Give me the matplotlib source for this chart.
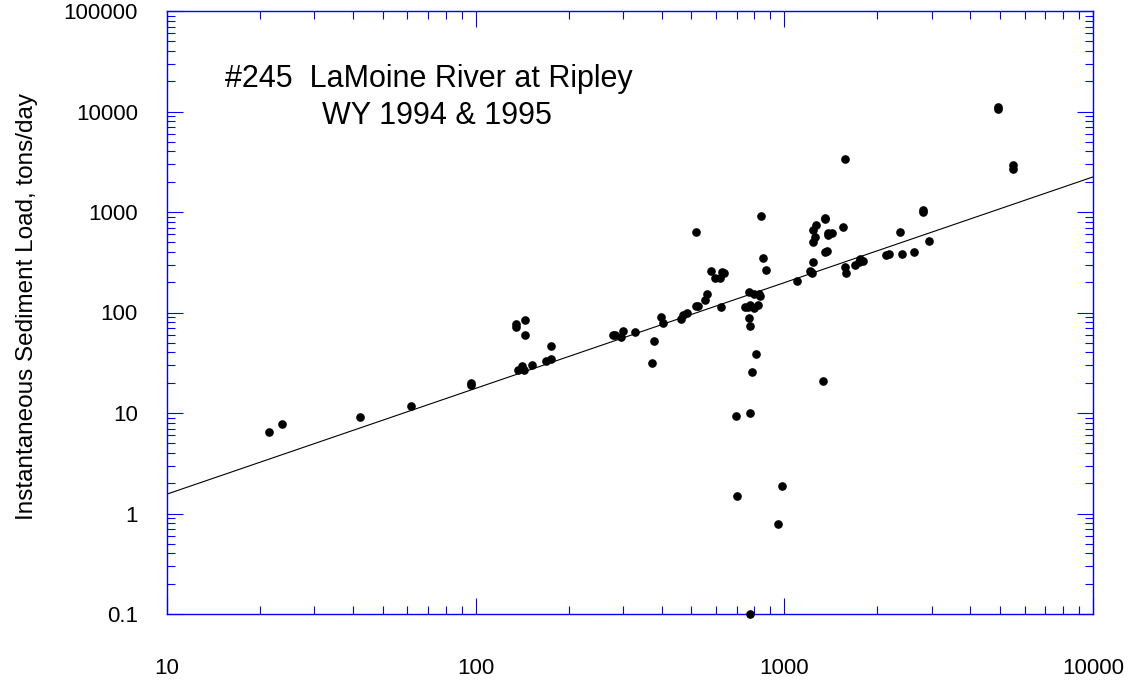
import numpy as np
import matplotlib
matplotlib.use("Agg")
import matplotlib.pyplot as plt
from matplotlib.ticker import LogLocator, FuncFormatter, NullFormatter

# discharge (x) and instantaneous sediment load (y)
discharge = [21.4, 23.5, 42.2, 61.9, 96.6, 96.6,
             134.8, 135.1, 144.5, 144.5, 175.4, 137.4, 141.0, 143.4, 152.6, 168.6, 175.4,
             279, 282, 295.7, 299.5, 329, 371.8, 377.5, 399, 404, 462, 469.6, 485,
             516, 525, 518.6, 553, 560, 579, 597.6, 619, 622, 627, 639,
             697, 703, 746, 764, 768, 770, 774, 776, 776, 776, 787, 798, 799, 811, 820, 828, 836, 840, 853, 870,
             954, 983, 1096, 1214, 1223, 1232, 1236, 1236, 1236, 1254, 1263, 1332, 1354, 1354, 1354, 1375, 1388, 1388, 1430,
             1545, 1569, 1576, 1585, 1694, 1746, 1759, 1795, 2135, 2178, 2364, 2405, 2637, 2813, 2813, 2936,
             4912, 4912, 5494, 5494]
load = [6.52, 7.72, 9.12, 11.74, 19.0, 19.8,
        76.3, 71.7, 83.6, 60.1, 46.4, 26.8, 29.4, 26.8, 29.8, 33.2, 34.2,
        59.6, 59.3, 56.6, 65.0, 63.5, 31.2, 52.4, 90.2, 78.1, 86.8, 94.4, 99.5,
        116, 115, 628, 133, 153, 257, 222, 222, 114, 253, 245,
        9.33, 1.50, 114, 113, 88.2, 159, 120, 73.4, 9.93, 0.1, 25.4, 153, 111, 38.6, 120, 153, 146, 906, 351, 263,
        0.79, 1.89, 207, 261, 253, 245, 667, 503, 318, 568, 747, 20.8, 866, 846, 403, 406, 622, 590, 618,
        714, 286, 3344, 247, 297, 320, 338, 325, 376, 382, 628, 379, 400, 1040, 1010, 514,
        11100, 10600, 2936, 2679]

# rating curve drawn on the chart: load = fit_at_10 * (Q / 10) ** fit_slope
fit_at_10 = 1.56
fit_slope = 1.052
x_range = [10, 10000]
y_range = [0.1, 100000]

title_line1 = "#245  LaMoine River at Ripley"
title_line2 = "WY 1994 & 1995"
y_label = "Instantaneous Sediment Load, tons/day"

plt.rcParams['font.family'] = ['Liberation Sans', 'DejaVu Sans']

fig = plt.figure(figsize=(11.37, 6.87), dpi=100)
ax = fig.add_axes([167 / 1137, 1 - 614 / 687, (1093 - 167) / 1137, (614 - 11) / 687])

ax.set_xscale('log')
ax.set_yscale('log')
ax.set_xlim(x_range)
ax.set_ylim(y_range)

q_line = np.array(x_range, dtype=float)
ax.plot(q_line, fit_at_10 * (q_line / 10) ** fit_slope, color='black', lw=0.8, zorder=2)
ax.plot(discharge, load, 'o', color='black', ms=5.2, mec='black', zorder=3, clip_on=False)

blue = '#0000ff'
for side in ax.spines.values():
    side.set_color(blue)
    side.set_linewidth(1.0)

ax.xaxis.set_major_locator(LogLocator(base=10, numticks=10))
ax.yaxis.set_major_locator(LogLocator(base=10, numticks=10))
ax.xaxis.set_minor_locator(LogLocator(base=10, subs=np.arange(2, 10), numticks=20))
ax.yaxis.set_minor_locator(LogLocator(base=10, subs=np.arange(2, 10), numticks=20))
fmt = FuncFormatter(lambda v, p: '%g' % v)
ax.xaxis.set_major_formatter(fmt)
ax.yaxis.set_major_formatter(fmt)
ax.xaxis.set_minor_formatter(NullFormatter())
ax.yaxis.set_minor_formatter(NullFormatter())

ax.tick_params(which='both', direction='in', top=True, right=True, color=blue)
ax.tick_params(which='major', length=11.5, width=0.8, labelsize=16)
ax.tick_params(which='minor', length=5.8, width=0.8)
ax.tick_params(axis='x', which='major', pad=32)
ax.tick_params(axis='y', which='major', pad=21)

ax.set_ylabel(y_label, fontsize=17.5)
ax.yaxis.set_label_coords((38 - 167) / 926, 0.51)

fig.text(225 / 1137, 1 - 87 / 687, title_line1, fontsize=22, ha='left', va='baseline')
fig.text(322 / 1137, 1 - 124 / 687, title_line2, fontsize=22, ha='left', va='baseline')

fig.savefig('out.png', dpi=100)
